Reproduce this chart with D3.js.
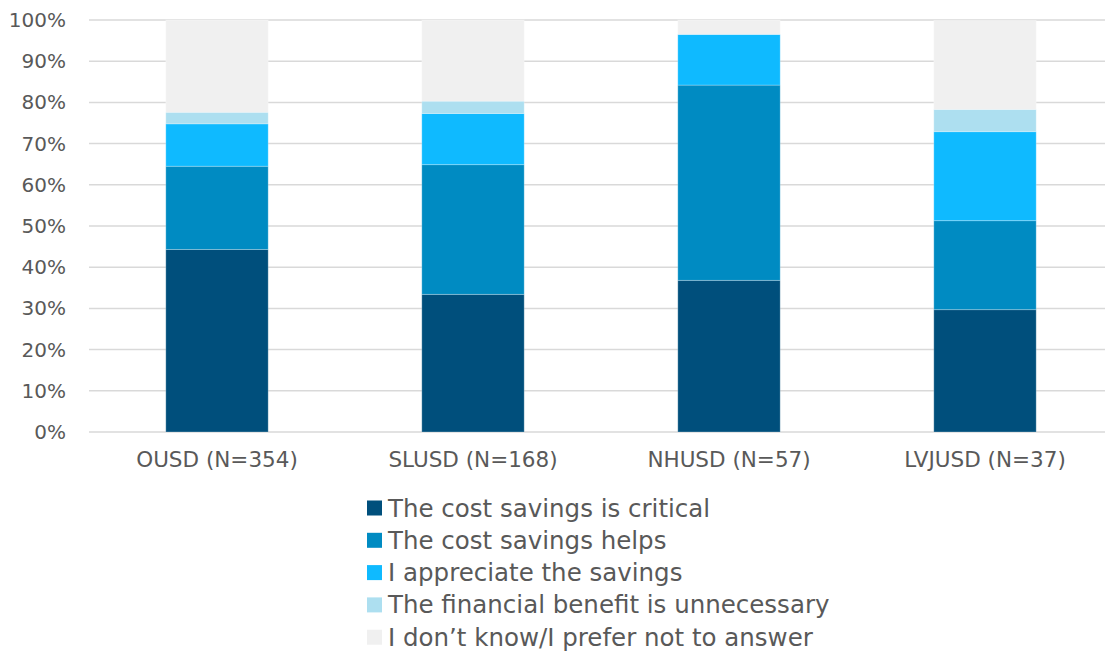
<!DOCTYPE html>
<html><head><meta charset="utf-8">
<script src="https://cdn.jsdelivr.net/npm/d3@7"></script>
<style>body{margin:0;background:#fff;} svg{display:block;}</style>
</head><body>
<svg id="c" width="1105" height="654"></svg>
<script>
const categories = ["OUSD (N=354)", "SLUSD (N=168)", "NHUSD (N=57)", "LVJUSD (N=37)"];
const seriesNames = ["The cost savings is critical", "The cost savings helps", "I appreciate the savings", "The financial benefit is unnecessary", "I don\u2019t know/I prefer not to answer"];
const critical = [44.3, 33.4, 36.8, 29.7];
const helps = [20.2, 31.5, 47.4, 21.6];
const appreciate = [10.3, 12.4, 12.3, 21.6];
const unnecessary = [2.8, 3.0, 0, 5.4];
const dontKnow = [22.4, 19.7, 3.5, 21.6];
const yTicks = [0, 10, 20, 30, 40, 50, 60, 70, 80, 90, 100];
const colors = ["#004f7c", "#008bc2", "#0fbaff", "#addff0", "#f0f0f0"];

const seriesValues = [critical, helps, appreciate, unnecessary, dontKnow];
const table = categories.map((c, i) => {
  const row = {cat: c};
  seriesNames.forEach((s, j) => row[s] = seriesValues[j][i]);
  return row;
});
const stacked = d3.stack().keys(seriesNames)(table);

const svg = d3.select("#c");
const font = "'DejaVu Sans', sans-serif";
const x = d3.scaleBand().domain(categories).range([89, 1113]).paddingInner(0.6).paddingOuter(0.3);
const y = d3.scaleLinear().domain([0, 100]).range([432, 20]);

// gridlines
svg.append("g").selectAll("line").data(yTicks).join("line")
  .attr("x1", 89).attr("x2", 1105)
  .attr("y1", d => y(d)).attr("y2", d => y(d))
  .attr("stroke", "#d9d9d9").attr("stroke-width", 1.5);

// y axis labels
const yAxis = svg.append("g").attr("transform", "translate(66,0)")
  .call(d3.axisLeft(y).tickValues(yTicks).tickFormat(d => d + "%").tickSize(0).tickPadding(0));
yAxis.select(".domain").remove();
yAxis.selectAll("text").attr("font-family", font).attr("font-size", 20).attr("fill", "#595959");

// bars
svg.append("g").selectAll("g").data(stacked).join("g")
  .attr("fill", (d, i) => colors[i])
  .selectAll("rect").data(d => d).join("rect")
  .attr("x", d => x(d.data.cat))
  .attr("width", x.bandwidth())
  .attr("y", d => y(d[1]))
  .attr("height", d => Math.max(0, y(d[0]) - y(d[1])))
  .attr("stroke", "rgba(255,255,255,0.25)").attr("stroke-width", 1);

// x axis
const xAxis = svg.append("g").attr("transform", "translate(0,432)")
  .call(d3.axisBottom(x).tickSize(0).tickPadding(20));
xAxis.select(".domain").remove();
xAxis.selectAll("text").attr("font-family", font).attr("font-size", 21.5).attr("fill", "#595959");

// legend
const legend = svg.append("g").attr("transform", "translate(367,0)");
const rows = legend.selectAll("g").data(seriesNames).join("g")
  .attr("transform", (d, i) => `translate(0,${508 + i * 32.3})`);
rows.append("rect").attr("x", 0).attr("y", -7.5).attr("width", 15).attr("height", 15)
  .attr("fill", (d, i) => colors[i]);
rows.append("text").attr("x", 21).attr("dy", "0.35em").text(d => d)
  .attr("font-family", font).attr("font-size", 24.5).attr("fill", "#595959");
</script>
</body></html>
